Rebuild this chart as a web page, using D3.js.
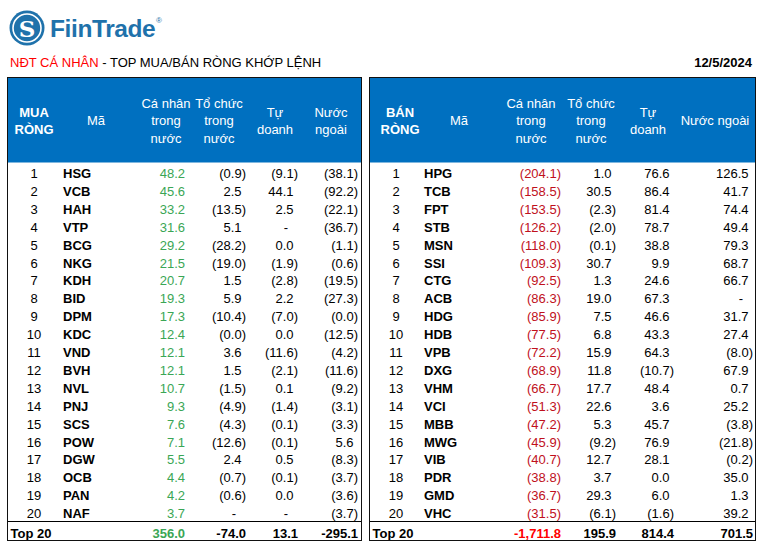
<!DOCTYPE html>
<html><head><meta charset="utf-8">
<script src="https://cdn.jsdelivr.net/npm/d3@7"></script>
<style>html,body{margin:0;padding:0;background:#fff}svg{display:block;font-family:"Liberation Sans",Arial,sans-serif}</style>
</head><body><svg id="c" width="762" height="554"></svg>
<script>
// ---------- DATA ----------
const ranks = d3.range(1, 21);
const buyTickers = ["HSG","VCB","HAH","VTP","BCG","NKG","KDH","BID","DPM","KDC","VND","BVH","NVL","PNJ","SCS","POW","DGW","OCB","PAN","NAF"];
const buyIndividual = [48.2,45.6,33.2,31.6,29.2,21.5,20.7,19.3,17.3,12.4,12.1,12.1,10.7,9.3,7.6,7.1,5.5,4.4,4.2,3.7];
const buyInstitution = [-0.9,2.5,-13.5,5.1,-28.2,-19.0,1.5,5.9,-10.4,-0.0,3.6,1.5,-1.5,-4.9,-4.3,-12.6,2.4,-0.7,-0.6,null];
const buyProprietary = [-9.1,44.1,2.5,null,0.0,-1.9,-2.8,2.2,-7.0,0.0,-11.6,-2.1,0.1,-1.4,-0.1,-0.1,0.5,-0.1,0.0,null];
const buyForeign = [-38.1,-92.2,-22.1,-36.7,-1.1,-0.6,-19.5,-27.3,-0.0,-12.5,-4.2,-11.6,-9.2,-3.1,-3.3,5.6,-8.3,-3.7,-3.6,-3.7];
const buyTotals = [356.0,-74.0,13.1,-295.1];

const sellTickers = ["HPG","TCB","FPT","STB","MSN","SSI","CTG","ACB","HDG","HDB","VPB","DXG","VHM","VCI","MBB","MWG","VIB","PDR","GMD","VHC"];
const sellIndividual = [-204.1,-158.5,-153.5,-126.2,-118.0,-109.3,-92.5,-86.3,-85.9,-77.5,-72.2,-68.9,-66.7,-51.3,-47.2,-45.9,-40.7,-38.8,-36.7,-31.5];
const sellInstitution = [1.0,30.5,-2.3,-2.0,-0.1,30.7,1.3,19.0,7.5,6.8,15.9,11.8,17.7,22.6,5.3,-9.2,12.7,3.7,29.3,-6.1];
const sellProprietary = [76.6,86.4,81.4,78.7,38.8,9.9,24.6,67.3,46.6,43.3,64.3,-10.7,48.4,3.6,45.7,76.9,28.1,0.0,6.0,-1.6];
const sellForeign = [126.5,41.7,74.4,49.4,79.3,68.7,66.7,null,31.7,27.4,-8.0,67.9,0.7,25.2,-3.8,-21.8,-0.2,35.0,1.3,39.2];
const sellTotals = [-1711.8,195.9,814.4,701.5];

const titleRed = "NĐT CÁ NHÂN";
const titleRest = " - TOP MUA/BÁN RÒNG KHỚP LỆNH";
const dateLabel = "12/5/2024";

// ---------- RENDER ----------
const svg = d3.select("#c");
const BLUE = "#0070c0", GREEN = "#3aa655", DRED = "#c0101c", RED = "#ff0000";
const fmt = d3.format(",.1f");
const isNeg = v => v < 0 || Object.is(v, -0);
const cell = v => v === null ? "-" : (isNeg(v) ? "(" + fmt(Math.abs(v)) + ")" : fmt(v));
const totalFmt = v => (v < 0 ? "-" : "") + fmt(Math.abs(v));

// logo
const logo = svg.append("g");
logo.append("circle").attr("cx", 27).attr("cy", 28).attr("r", 17.5).attr("fill", "#1f72ab");
logo.append("circle").attr("cx", 27).attr("cy", 28).attr("r", 14).attr("fill", "none").attr("stroke", "#fff").attr("stroke-width", 1.6);
logo.append("text").attr("x", 27).attr("y", 36.5).attr("text-anchor", "middle")
  .attr("font-family", "'DejaVu Serif',serif").attr("font-weight", "bold").attr("font-size", 23).attr("fill", "#fff").text("S");
svg.append("text").attr("x", 50).attr("y", 37).attr("font-weight", "bold").attr("font-size", 24.5)
  .attr("letter-spacing", -0.4).attr("fill", "#1f72ab").text("FiinTrade");
svg.append("text").attr("x", 156).attr("y", 23).attr("font-size", 8).attr("fill", "#1f72ab").text("®");

// title
const t = svg.append("text").attr("x", 10).attr("y", 66.5).attr("font-size", 13);
t.append("tspan").attr("fill", RED).text(titleRed);
t.append("tspan").attr("fill", "#000").text(titleRest);
svg.append("text").attr("x", 752).attr("y", 66.5).attr("text-anchor", "end").attr("font-size", 13)
  .attr("font-weight", "bold").text(dateLabel);

const y = d3.scaleBand().domain(ranks).range([163, 521]).padding(0);

function drawTable(cfg) {
  const g = svg.append("g");
  const {x0, x1} = cfg;
  g.append("rect").attr("x", x0).attr("y", 77.5).attr("width", x1 - x0).attr("height", 85).attr("fill", BLUE);
  // header
  const hdr = (lines, cx, bold) => {
    const n = lines.length;
    const base = n === 3 ? 107.5 : n === 2 ? 116.5 : 124.5;
    lines.forEach((l, i) => g.append("text").attr("x", cx).attr("y", base + i * 17.5)
      .attr("text-anchor", "middle").attr("font-size", 13).attr("fill", "#fff")
      .attr("font-weight", bold ? "bold" : "normal").text(l));
  };
  cfg.headers.forEach(h => hdr(h.lines, h.cx, h.bold));
  // rows
  ranks.forEach((r, i) => {
    const by = y(r) + 15;
    g.append("text").attr("x", cfg.rankX).attr("y", by).attr("text-anchor", "middle").attr("font-size", 13).text(r);
    g.append("text").attr("x", cfg.tickX).attr("y", by).attr("font-size", 13).attr("font-weight", "bold").text(cfg.tickers[i]);
    cfg.cols.forEach(c => {
      const v = c.values[i];
      let x = c.right;
      if (v === null) x = c.right - 10;
      else if (!isNeg(v) && c.pad) x = c.right - 4.5;
      g.append("text").attr("x", x).attr("y", by).attr("text-anchor", "end").attr("font-size", 13)
        .attr("fill", c.color).text(cell(v));
    });
  });
  // total row
  const ty = 537.5;
  g.append("text").attr("x", x0 + 3).attr("y", ty).attr("font-size", 13).attr("font-weight", "bold").text("Top 20");
  cfg.cols.forEach((c, j) => {
    g.append("text").attr("x", c.right).attr("y", ty).attr("text-anchor", "end").attr("font-size", 13)
      .attr("font-weight", "bold").attr("fill", c.totalColor).text(totalFmt(cfg.totals[j]));
  });
  g.append("line").attr("x1", x0).attr("x2", x1).attr("y1", 521.5).attr("y2", 521.5).attr("stroke", "#000");
  g.append("rect").attr("x", x0).attr("y", 77.5).attr("width", x1 - x0).attr("height", 463)
    .attr("fill", "none").attr("stroke", "#111").attr("stroke-width", 1);
}

drawTable({
  x0: 7.5, x1: 361.5, rankX: 34, tickX: 63, tickers: buyTickers, totals: buyTotals,
  headers: [
    {lines: ["MUA", "RÒNG"], cx: 34, bold: true},
    {lines: ["Mã"], cx: 96},
    {lines: ["Cá nhân", "trong", "nước"], cx: 166},
    {lines: ["Tổ chức", "trong", "nước"], cx: 219},
    {lines: ["Tự", "doanh"], cx: 275},
    {lines: ["Nước", "ngoài"], cx: 331}
  ],
  cols: [
    {values: buyIndividual, right: 185, pad: false, color: GREEN, totalColor: GREEN},
    {values: buyInstitution, right: 246, pad: true, color: "#000", totalColor: "#000"},
    {values: buyProprietary, right: 298, pad: true, color: "#000", totalColor: "#000"},
    {values: buyForeign, right: 358, pad: true, color: "#000", totalColor: "#000"}
  ]
});

drawTable({
  x0: 369.5, x1: 755.5, rankX: 396, tickX: 424, tickers: sellTickers, totals: sellTotals,
  headers: [
    {lines: ["BÁN", "RÒNG"], cx: 400, bold: true},
    {lines: ["Mã"], cx: 459},
    {lines: ["Cá nhân", "trong", "nước"], cx: 531},
    {lines: ["Tổ chức", "trong", "nước"], cx: 591},
    {lines: ["Tự", "doanh"], cx: 648},
    {lines: ["Nước ngoài"], cx: 715}
  ],
  cols: [
    {values: sellIndividual, right: 561, pad: true, color: DRED, totalColor: RED},
    {values: sellInstitution, right: 616, pad: true, color: "#000", totalColor: "#000"},
    {values: sellProprietary, right: 674, pad: true, color: "#000", totalColor: "#000"},
    {values: sellForeign, right: 753, pad: true, color: "#000", totalColor: "#000"}
  ]
});
</script>
</body></html>
